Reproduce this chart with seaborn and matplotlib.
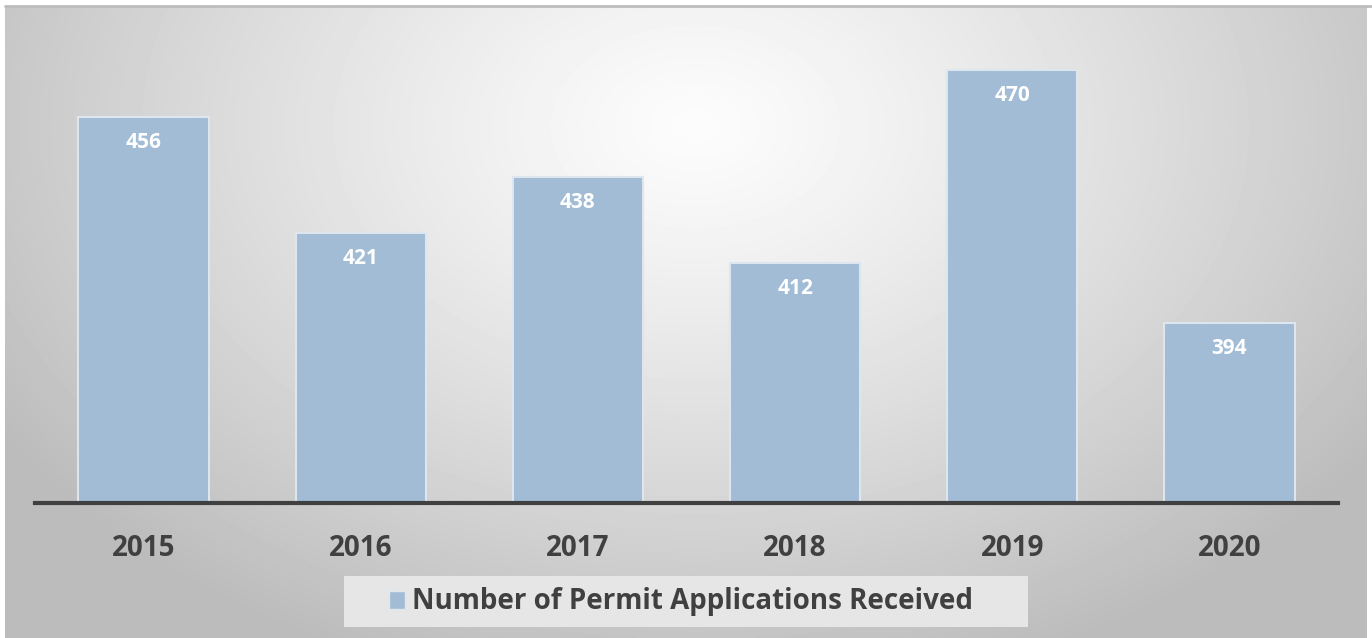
import numpy as np
import pandas as pd
import seaborn as sns
from matplotlib import pyplot as plt
from matplotlib.patches import Rectangle, Patch

years = ['2015', '2016', '2017', '2018', '2019', '2020']
applications = [456, 421, 438, 412, 470, 394]
series_name = 'Number of Permit Applications Received'

BAR = '#A2BCD5'
DARK = '#404040'

sns.set_style('white')
plt.rcParams['font.family'] = ['Open Sans', 'DejaVu Sans']

fig = plt.figure(figsize=(13.72, 6.38), dpi=100)
fig.patch.set_facecolor('white')

# radial gray background with a thin border
bg = fig.add_axes([5 / 1372, 0, 1362 / 1372, 632 / 638])
h, w = 632, 1362
yy, xx = np.mgrid[0:h, 0:w]
r = np.sqrt(((xx - 690) / 800.0) ** 2 + ((yy - 120) / 560.0) ** 2)
shade = np.clip(252 - 62 * r ** 1.2, 188, 255) / 255.0
bg.imshow(shade, cmap='gray', vmin=0, vmax=1, aspect='auto', interpolation='bilinear')
bg.set_axis_off()
fig.add_artist(plt.Line2D([5 / 1372, 1], [1 - 6 / 638, 1 - 6 / 638], color='#BDBDBD', lw=2))

ax = fig.add_axes([35 / 1372, 1 - 503 / 638, 1303 / 1372, 466 / 638])
ax.patch.set_alpha(0)
df = pd.DataFrame({'year': years, 'count': applications})
sns.barplot(data=df, x='year', y='count', color=BAR, saturation=1, width=0.6,
            edgecolor='#DDE6EF', linewidth=1.5, ax=ax)
ax.set_ylim(340, 480)
ax.set_xlim(-0.5, len(years) - 0.5)
ax.bar_label(ax.containers[0], padding=-26, color='white', fontsize=15, fontweight='bold')

for s in ['top', 'right', 'left']:
    ax.spines[s].set_visible(False)
ax.spines['bottom'].set_color(DARK)
ax.spines['bottom'].set_linewidth(3)
ax.set_yticks([])
ax.set_xlabel('')
ax.set_ylabel('')
ax.tick_params(axis='x', length=0, pad=22, labelsize=20, labelcolor=DARK)
for t in ax.get_xticklabels():
    t.set_fontweight('bold')

# legend box
fig.add_artist(Rectangle((344 / 1372, 1 - 627 / 638), 684 / 1372, 51 / 638,
                         transform=fig.transFigure, facecolor='#E6E6E6', edgecolor='none'))
handle = Patch(facecolor=BAR, edgecolor='#DDE6EF', label=series_name)
fig.legend(handles=[handle], loc='center', bbox_to_anchor=(681 / 1372, 1 - 602 / 638),
           frameon=False, handlelength=0.6, handleheight=0.6, handletextpad=0.25,
           prop={'weight': 'bold', 'size': 20}, labelcolor=DARK)

fig.savefig('out.png', dpi=100)
plt.close(fig)
